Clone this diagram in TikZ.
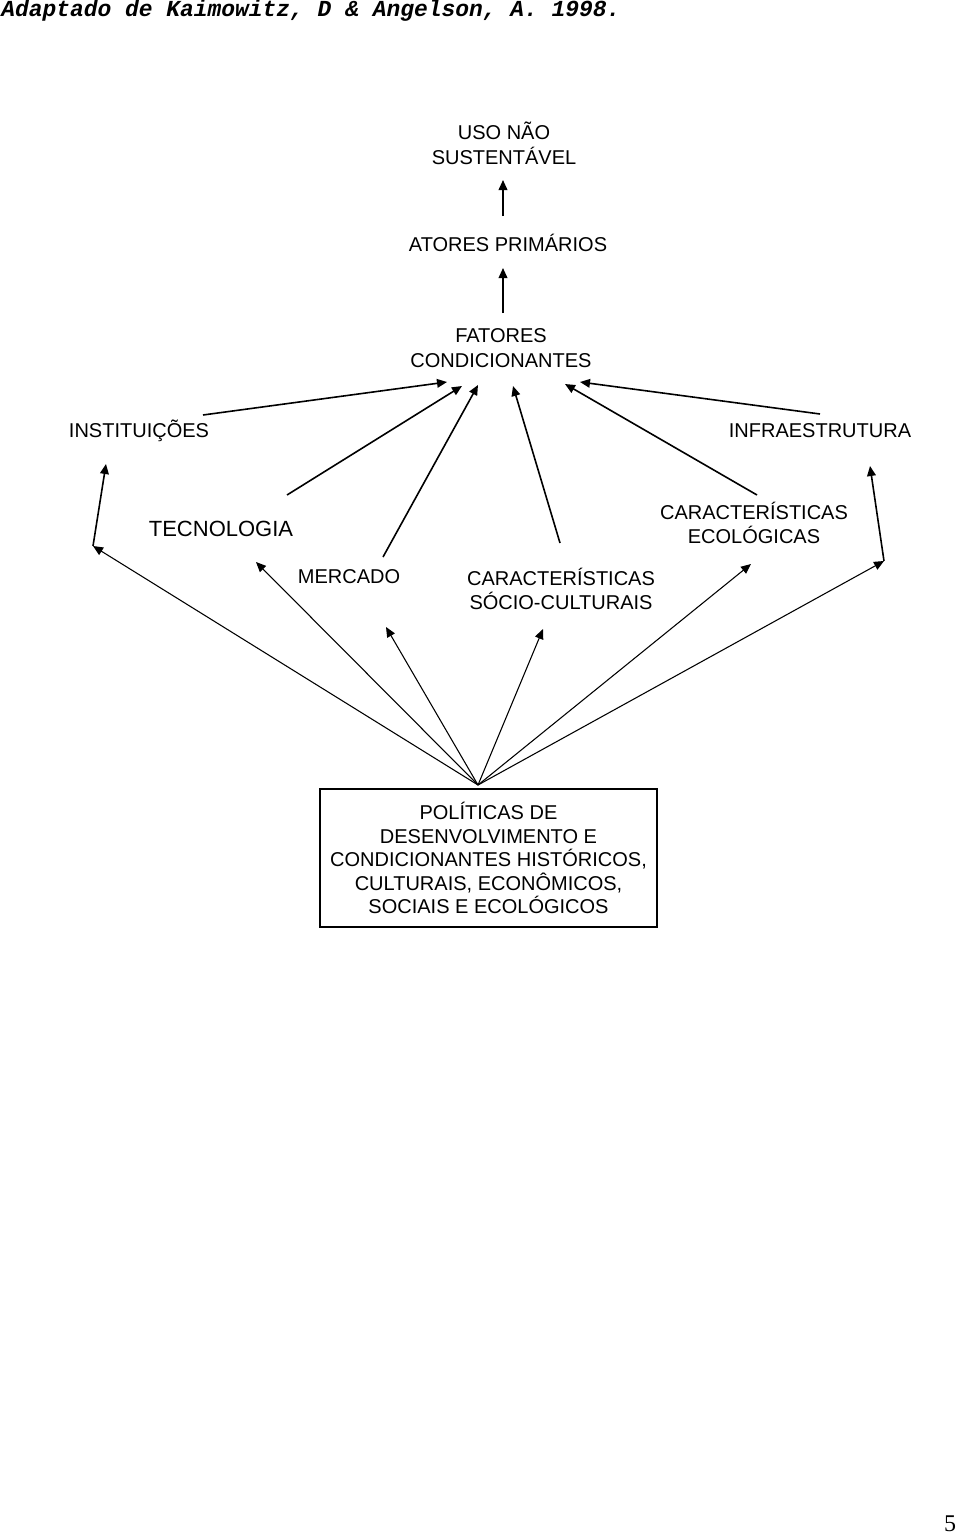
\documentclass[tikz,border=0pt]{standalone}
\usepackage{fontspec}
\setmainfont{Liberation Sans}
\newfontfamily\citefont{Liberation Mono}
\newfontfamily\pagefont{Liberation Serif}
\usepackage{tikz}
\usetikzlibrary{arrows.meta}

\begin{document}
\begin{tikzpicture}[x=0.75pt,y=-0.75pt,
	label/.style={align=center,inner sep=0,font=\fontsize{15}{18.5}\selectfont},
	upper/.style={line width=1.2pt,-{Triangle[length=7.5pt,width=6.5pt]}},
	lower/.style={line width=0.8pt,-{Triangle[length=7.5pt,width=6.5pt]}}]
	\useasboundingbox (0,0) rectangle (960,1534);
	\node at (1,17) [anchor=base west,inner sep=0,font=\fontsize{17.2}{20}\citefont\bfseries\itshape] (cite) {Adaptado de Kaimowitz, D \& Angelson, A. 1998.};
	\node at (504,143) [label] (uso) {USO NÃO\\SUSTENTÁVEL};
	\node at (508,243) [label] (atores) {ATORES PRIMÁRIOS};
	\node at (501,348) [label] (fatores) {FATORES\\CONDICIONANTES};
	\node at (139,431) [label] (inst) {INSTITUIÇÕES};
	\node at (820,431) [label] (infra) {INFRAESTRUTURA};
	\node at (221,529) [label,font=\fontsize{16.5}{18.5}\selectfont] (tec) {TECNOLOGIA};
	\node at (754,523) [label] (eco) {CARACTERÍSTICAS\\ECOLÓGICAS};
	\node at (349,577) [label] (merc) {MERCADO};
	\node at (561,589) [label] (socio) {CARACTERÍSTICAS\\SÓCIO-CULTURAIS};
	\node at (488.5,858) [draw,line width=1pt,minimum width=252.75pt,minimum height=103.5pt,align=center,font=\fontsize{15}{17.6}\selectfont] (pol) {POLÍTICAS DE\\DESENVOLVIMENTO E\\CONDICIONANTES HISTÓRICOS,\\CULTURAIS, ECONÔMICOS,\\SOCIAIS E ECOLÓGICOS};
	\node at (950,1524) [inner sep=0,font=\fontsize{18}{20}\pagefont] (page) {5};
	% ends of the connectors
	\coordinate (usoIn) at (503,180);
	\coordinate (atoresOut) at (503,216);
	\coordinate (atoresIn) at (503,268);
	\coordinate (fatoresOut) at (503,313);
	\coordinate (fatIn1) at (447,382);
	\coordinate (fatIn2) at (462,386);
	\coordinate (fatIn3) at (478,385);
	\coordinate (fatIn4) at (513,386);
	\coordinate (fatIn5) at (565,384);
	\coordinate (fatIn6) at (580,382);
	\coordinate (instOut) at (203,415);
	\coordinate (instIn) at (106,464);
	\coordinate (instFoot) at (93,546);
	\coordinate (infraOut) at (820,414);
	\coordinate (infraIn) at (870,466);
	\coordinate (infraFoot) at (884,561);
	\coordinate (tecOut) at (287,495);
	\coordinate (tecIn) at (256,562);
	\coordinate (mercOut) at (383,557);
	\coordinate (mercIn) at (386,627);
	\coordinate (socioOut) at (560,543);
	\coordinate (socioIn) at (543,629);
	\coordinate (ecoOut) at (757,495);
	\coordinate (ecoIn) at (751,564);
	\coordinate (apex) at (478,785);
	\draw [upper] (atoresOut) to (usoIn);
	\draw [upper] (fatoresOut) to (atoresIn);
	\draw [upper] (instOut) to (fatIn1);
	\draw [upper] (tecOut) to (fatIn2);
	\draw [upper] (mercOut) to (fatIn3);
	\draw [upper] (socioOut) to (fatIn4);
	\draw [upper] (ecoOut) to (fatIn5);
	\draw [upper] (infraOut) to (fatIn6);
	\draw [upper] (instFoot) to (instIn);
	\draw [upper] (infraFoot) to (infraIn);
	\draw [lower] (apex) to (instFoot);
	\draw [lower] (apex) to (tecIn);
	\draw [lower] (apex) to (mercIn);
	\draw [lower] (apex) to (socioIn);
	\draw [lower] (apex) to (ecoIn);
	\draw [lower] (apex) to (infraFoot);
\end{tikzpicture}
\end{document}
